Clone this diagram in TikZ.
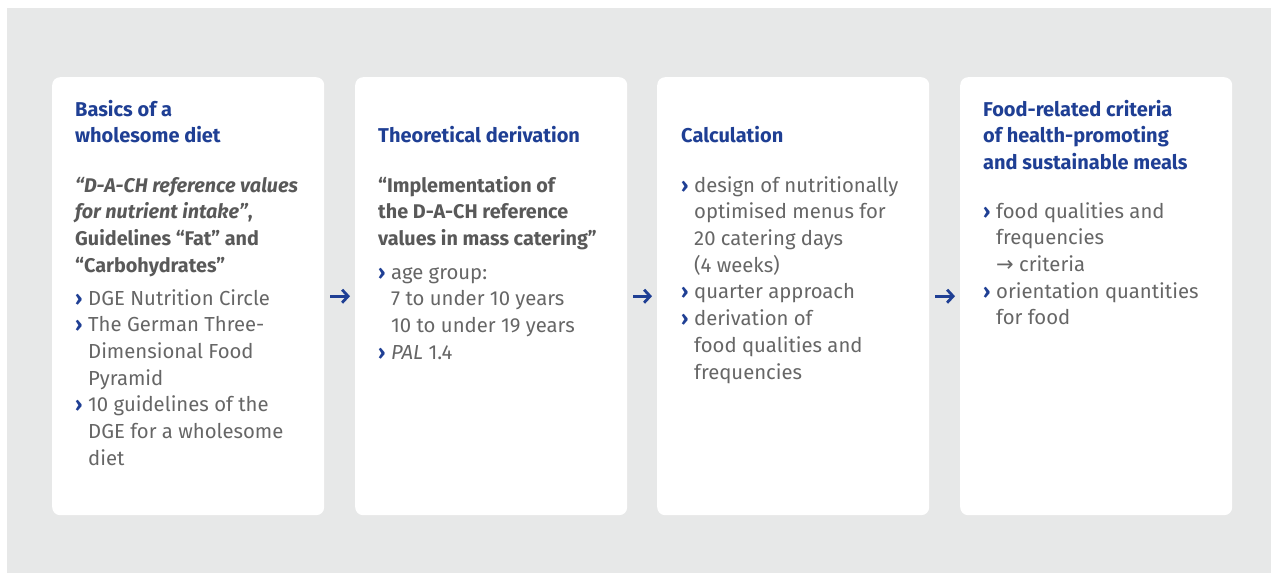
\documentclass[tikz,border=0pt]{standalone}
\usepackage{fontspec}
\setmainfont{Fira Sans}
\newfontfamily\arrowfont{DejaVu Sans}
\usetikzlibrary{arrows.meta}
\definecolor{bgc}{HTML}{E7E8E8}
\definecolor{dblue}{HTML}{1F3F94}
\definecolor{tgray}{HTML}{666666}
\definecolor{qgray}{HTML}{595959}
\newcommand{\bl}{\makebox[13pt][l]{\textcolor{dblue}{\bfseries ›}}}
\newcommand{\ind}{\hspace*{13pt}}
\tikzset{
  box/.style={fill=white, rounded corners=8pt, minimum width=272pt, minimum height=438pt, inner sep=0pt, anchor=north west},
  txt/.style={anchor=north west, inner sep=0pt, align=left, text=tgray, font=\fontsize{20.3}{26.7}\selectfont},
  ttl/.style={txt, text=dblue, font=\fontsize{20}{26.5}\selectfont\bfseries},
  qt/.style={txt, text=qgray, font=\fontsize{19.8}{26.7}\selectfont\bfseries},
  arr/.style={draw=dblue, line width=2.8pt, -{Straight Barb[length=6pt,width=13pt]}, shorten <=6pt, shorten >=5pt}
}
\begin{document}
\begin{tikzpicture}[x=1pt,y=-1pt]
\useasboundingbox (0,0) rectangle (1271,573);
\fill[white] (0,0) rectangle (1271,573);
\fill[bgc] (7,8) rectangle (1271,573);
\node[box] (b1) at (52,77) {};
\node[box] (b2) at (355,77) {};
\node[box] (b3) at (657,77) {};
\node[box] (b4) at (960,77) {};
% box 1
\node[ttl] (t1) at (75,97.3) {\strut Basics of a\\wholesome diet};
\node[qt] (q1) at (75,173.3) {\strut\itshape “D-A-CH reference values\\\itshape for nutrient intake”\upshape,\\Guidelines “Fat” and\\“Carbohydrates”};
\node[txt] (l1) at (75,286.3) {\strut\bl DGE Nutrition Circle\\\bl The German Three-\\\ind Dimensional Food\\\ind Pyramid\\\bl 10 guidelines of the\\\ind DGE for a wholesome\\\ind diet};
% box 2
\node[ttl] (t2) at (378,123.3) {\strut Theoretical derivation};
\node[qt] (q2) at (378,173.3) {\strut “Implementation of\\the D-A-CH reference\\values in mass catering”};
\node[txt] (l2) at (378,260.3) {\strut\bl age group:\\\ind 7 to under 10 years\\\ind 10 to under 19 years\\\bl \textit{PAL} 1.4};
% box 3
\node[ttl] (t3) at (681,123.3) {\strut Calculation};
\node[txt] (l3) at (681,173.3) {\strut\bl design of nutritionally\\\ind optimised menus for\\\ind 20 catering days\\\ind (4 weeks)\\\bl quarter approach\\\bl derivation of\\\ind food qualities and\\\ind frequencies};
% box 4
\node[ttl] (t4) at (983,97.3) {\strut Food-related criteria\\of health-promoting\\and sustainable meals};
\node[txt] (l4) at (983,199.3) {\strut\bl food qualities and\\\ind frequencies\\\ind {\arrowfont\fontsize{21}{20}\selectfont →} criteria\\\bl orientation quantities\\\ind for food};
% arrows
\draw[arr] (b1) -- (b2);
\draw[arr] (b2) -- (b3);
\draw[arr] (b3) -- (b4);
\end{tikzpicture}
\end{document}
